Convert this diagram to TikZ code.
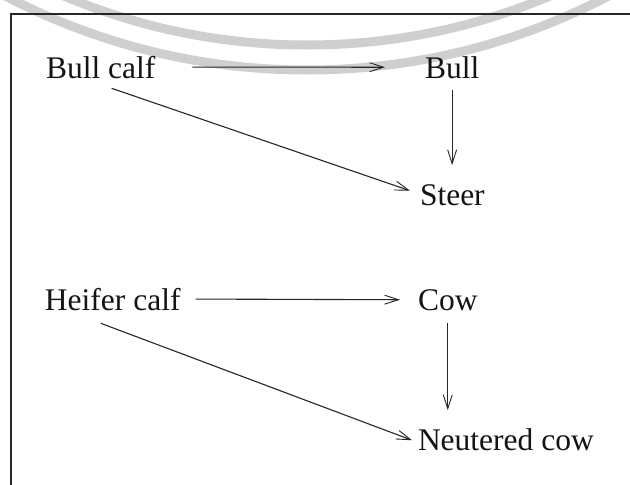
\documentclass[tikz,border=0pt]{standalone}
\usepackage{fontspec}
\setmainfont{Liberation Serif}
\usetikzlibrary{arrows.meta}
\begin{document}
\begin{tikzpicture}[x=1pt,y=-1pt,
  label/.style={inner sep=0pt,outer sep=0pt,anchor=base west,
    font=\fontsize{31.5}{34}\selectfont,text=black!92},
  link/.style={draw=black!85,line width=1.1pt,
    -{Straight Barb[length=14pt,width=9pt,line width=0.9pt]}},
  ring/.style={draw=black!19,line width=9pt}]
  \useasboundingbox (0,0) rectangle (630,485);
  \clip (0,0) rectangle (630,485);
  \fill[white] (0,0) rectangle (630,485);

  % faint seal arcs behind the frame
  \draw[ring] (307,-580) circle[radius=625pt];
  \draw[ring] (307,-580) circle[radius=650pt];

  % frame, open to the right and below
  \draw[black!85,line width=1.5pt] (640,14) -- (11,14) -- (11,495);

  % labels
  \node[label] (bc) at (46,78)  {Bull calf};
  \node[label] (b)  at (425,78) {Bull};
  \node[label] (st) at (420,205) {Steer};
  \node[label] (hc) at (45,310) {Heifer calf};
  \node[label] (cw) at (418,310) {Cow};
  \node[label] (nc) at (418,450) {Neutered cow};

  % arrows
  \draw[link] ([xshift=37pt]bc.east) -- ([xshift=-40pt]b.west);
  \draw[link] ([yshift=-12pt]b.south) -- ([yshift=19pt]b.south |- st.north);
  \draw[link] ([shift={(11,10)}]bc.south) -- ([shift={(-10,-4)}]st.west);
  \draw[link] ([xshift=15pt]hc.east) -- ([xshift=-18pt]cw.west);
  \draw[link] ([yshift=-13pt]cw.south) -- ([yshift=18pt]cw.south |- nc.north);
  \draw[link] ([shift={(-12,13)}]hc.south) -- ([shift={(-6,1)}]nc.west);
\end{tikzpicture}
\end{document}
